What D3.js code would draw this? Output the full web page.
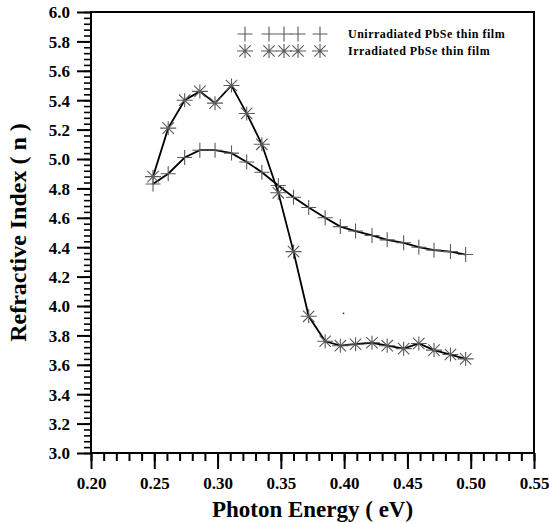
<!DOCTYPE html>
<html>
<head>
<meta charset="utf-8">
<script src="https://cdnjs.cloudflare.com/ajax/libs/d3/7.8.5/d3.min.js"></script>
<style>
  body { margin: 0; background: #fff; }
  text { font-family: "Liberation Serif", "Times New Roman", serif; font-weight: bold; fill: #000; }
</style>
</head>
<body>
<div id="chart"></div>
<script>

//==================================//
// Data
//

const energy = [0.249, 0.261, 0.274, 0.286, 0.298, 0.311, 0.323, 0.335, 0.348, 0.360, 0.372,
                0.385, 0.397, 0.409, 0.422, 0.434, 0.447, 0.459, 0.471, 0.484, 0.496]
const nUnirradiated = [4.83, 4.90, 5.01, 5.06, 5.06, 5.04, 4.98, 4.91, 4.82, 4.74, 4.67,
                       4.60, 4.54, 4.51, 4.48, 4.45, 4.43, 4.40, 4.38, 4.37, 4.35]
const nIrradiated = [4.88, 5.21, 5.40, 5.46, 5.38, 5.50, 5.31, 5.10, 4.77, 4.37, 3.93,
                     3.76, 3.73, 3.74, 3.75, 3.73, 3.71, 3.745, 3.70, 3.67, 3.64]
const seriesNames = ['Unirradiated PbSe thin film', 'Irradiated PbSe thin film']
const xTicks = [0.20, 0.25, 0.30, 0.35, 0.40, 0.45, 0.50, 0.55]
const yTicks = [3.0, 3.2, 3.4, 3.6, 3.8, 4.0, 4.2, 4.4, 4.6, 4.8, 5.0, 5.2, 5.4, 5.6, 5.8, 6.0]
const xDomain = [0.20, 0.55]
const yDomain = [3.0, 6.0]

//==================================//
// Setup
//

const svgw = 549, svgh = 523
const plotl = 91, plotr = 534, plott = 12, plotb = 453

let svg = d3.select('#chart').append('svg')
    .attr('width', svgw)
    .attr('height', svgh)

let x = d3.scaleLinear().domain(xDomain).range([plotl, plotr])
let y = d3.scaleLinear().domain(yDomain).range([plotb, plott])

//====[ minor ticks ]====//

let xMinor = d3.range(20, 56).map(v => v / 100)
let yMinor = d3.range(75, 151).map(v => v / 25)

svg.append('g')
    .attr('transform', 'translate(0,' + plotb + ')')
    .call(d3.axisBottom(x).tickValues(xMinor).tickSize(8).tickFormat(''))
    .call(g => g.select('.domain').remove())
    .selectAll('line').attr('stroke-width', 2)

svg.append('g')
    .attr('transform', 'translate(' + plotl + ',0)')
    .call(d3.axisLeft(y).tickValues(yMinor).tickSize(7).tickFormat(''))
    .call(g => g.select('.domain').remove())
    .selectAll('line').attr('stroke-width', 1.6)

//====[ major ticks + labels ]====//

let gx = svg.append('g')
    .attr('transform', 'translate(0,' + plotb + ')')
    .call(d3.axisBottom(x).tickValues(xTicks).tickSize(16).tickPadding(8).tickFormat(d3.format('.2f')))
gx.select('.domain').remove()
gx.selectAll('line').attr('stroke-width', 2)
gx.selectAll('text').attr('font-size', 17).style('font-family', '"Liberation Serif", serif')

let gy = svg.append('g')
    .attr('transform', 'translate(' + plotl + ',0)')
    .call(d3.axisLeft(y).tickValues(yTicks).tickSize(14).tickPadding(7).tickFormat(d3.format('.1f')))
gy.select('.domain').remove()
gy.selectAll('line').attr('stroke-width', 2)
gy.selectAll('text').attr('font-size', 17).attr('dy', '0.35em').style('font-family', '"Liberation Serif", serif')

//====[ frame ]====//

svg.append('rect')
    .attr('x', plotl)
    .attr('y', plott)
    .attr('width', plotr - plotl)
    .attr('height', plotb - plott)
    .attr('fill', 'none')
    .attr('stroke', '#000')
    .attr('stroke-width', 2)

//==================================//
// Series
//

let line = d3.line()
    .x(d => x(d[0]))
    .y(d => y(d[1]))

let unirr = energy.map((e, i) => [e, nUnirradiated[i]])
let irr = energy.map((e, i) => [e, nIrradiated[i]])

const plusPath = 'M-7.5,0H7.5M0,-7.5V7.5'
const starPath = 'M-8,0H8M0,-7V7M-5.7,-5.7L5.7,5.7M-5.7,5.7L5.7,-5.7'

function drawSeries(data, shape) {
    svg.append('path')
        .datum(data)
        .attr('d', line)
        .attr('fill', 'none')
        .attr('stroke', '#000')
        .attr('stroke-width', 1.8)

    svg.append('g').selectAll('path')
        .data(data)
        .enter()
        .append('path')
        .attr('transform', d => 'translate(' + x(d[0]) + ',' + y(d[1]) + ')')
        .attr('d', shape)
        .attr('fill', 'none')
        .attr('stroke', '#5a5a5a')
        .attr('stroke-width', 1.1)
}

drawSeries(unirr, plusPath)
drawSeries(irr, starPath)

// stray dot in the original
svg.append('circle')
    .attr('cx', x(0.3995))
    .attr('cy', y(3.95))
    .attr('r', 0.9)
    .attr('fill', '#333')

//==================================//
// Legend
//

const legendMarkX = [245, 269, 284, 298, 320]
const legendRows = [
    {name: seriesNames[0], shape: plusPath, y: 34},
    {name: seriesNames[1], shape: starPath, y: 51}
]

legendRows.forEach(row => {
    let g = svg.append('g')
    g.selectAll('path')
        .data(legendMarkX)
        .enter()
        .append('path')
        .attr('transform', d => 'translate(' + d + ',' + row.y + ')')
        .attr('d', row.shape)
        .attr('fill', 'none')
        .attr('stroke', '#5a5a5a')
        .attr('stroke-width', 1.1)
    g.append('text')
        .attr('x', 348)
        .attr('y', row.y + 4)
        .attr('font-size', 12)
        .attr('letter-spacing', 0.5)
        .text(row.name)
})

//==================================//
// Axis titles
//

svg.append('text')
    .attr('x', (plotl + plotr) / 2)
    .attr('y', 517)
    .attr('text-anchor', 'middle')
    .attr('font-size', 23)
    .text('Photon Energy ( eV)')

svg.append('text')
    .attr('transform', 'translate(26,' + (plott + plotb) / 2 + ') rotate(-90)')
    .attr('text-anchor', 'middle')
    .attr('font-size', 24)
    .text('Refractive Index ( n )')

</script>
</body>
</html>
